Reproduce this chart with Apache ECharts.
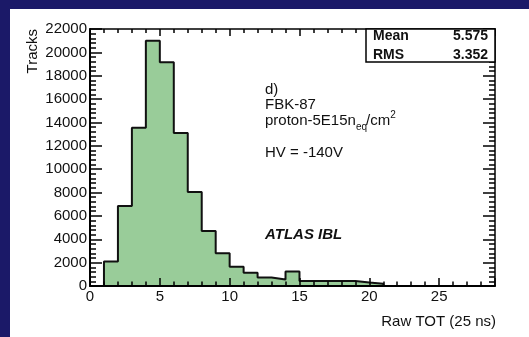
<!DOCTYPE html>
<html>
<head>
<meta charset="utf-8">
<script src="https://cdn.jsdelivr.net/npm/echarts@6/dist/echarts.min.js"></script>
<style>
  html, body { margin: 0; padding: 0; background: #ffffff; width: 529px; height: 337px; overflow: hidden; }
  #topbar { position: absolute; left: 0; top: 0; width: 100%; height: 9px; background: #1b1968; }
  #leftbar { position: absolute; left: 0; top: 0; width: 10px; height: 100%; background: #1b1968; }
  #c { position: absolute; left: 10px; top: 9px; width: 519px; height: 328px; background: #ffffff; }
</style>
</head>
<body>
<div id="topbar"></div>
<div id="leftbar"></div>
<div id="c"></div>
<script>
// ---- data ----
const binLowEdges = [0,1,2,3,4,5,6,7,8,9,10,11,12,13,14,15,16,17,18,19,20,21,22,23,24,25,26,27,28];
const binCounts   = [0,2100,6850,13550,21000,19150,13100,8050,4700,2800,1650,1130,730,560,1250,420,420,420,420,300,200,0,0,0,0,0,0,0,0];
const binWidth = 1;
const xRange = [0, 29];
const yRange = [0, 22000];
const statLabels = ['Mean', 'RMS'];
const statValues = ['5.575', '3.352'];
const noteLines = ['d)', 'FBK-87', 'HV = -140V'];
const yTitle = 'Tracks';
const xTitle = 'Raw TOT (25 ns)';
const brand = 'ATLAS IBL';

const FONT = "'Liberation Sans', Arial, Helvetica, sans-serif";
const OX = 10, OY = 9; // offset of white panel in page

const stepData = binLowEdges.map((x, i) => [x, binCounts[i]]);
stepData.push([binLowEdges[binLowEdges.length - 1] + binWidth, 0]);

const chart = echarts.init(document.getElementById('c'), null, { renderer: 'canvas', width: 519, height: 328 });

const ctx = document.createElement('canvas').getContext('2d');
function tw(text, font) { ctx.font = font; return ctx.measureText(text).width; }

const fN = '15px ' + FONT;
const fS = '10px ' + FONT;
const px = 265 - OX;
let cx = px;
const protonParts = [];
const py = 121 - OY;
protonParts.push({ t: 'proton-5E15n', f: fN, y: py });
protonParts.push({ t: 'eq', f: fS, y: py + 6 });
protonParts.push({ t: '/cm', f: fN, y: py });
protonParts.push({ t: '2', f: fS, y: py - 6 });
const protonEls = protonParts.map(p => {
  const el = { type: 'text', x: cx, y: p.y, z: 10,
    style: { text: p.t, font: p.f, fill: '#111', textAlign: 'left', textVerticalAlign: 'middle' } };
  cx += tw(p.t, p.f) - (p.t === 'eq' ? 1 : 0);
  return el;
});

const noteY = [90, 105, 153];
const noteEls = noteLines.map((t, i) => ({
  type: 'text', x: px, y: noteY[i] - OY, z: 10,
  style: { text: t, font: fN, fill: '#111', textAlign: 'left', textVerticalAlign: 'middle' }
}));

const boxL = 366 - OX, boxT = 29 - OY, boxR = 495 - OX, boxB = 62 - OY;
const statY = [36.5 - OY, 55 - OY];
const statEls = [];
statLabels.forEach((l, i) => {
  statEls.push({ type: 'text', x: 373 - OX, y: statY[i], z: 12,
    style: { text: l, font: 'bold 14px ' + FONT, fill: '#111', textAlign: 'left', textVerticalAlign: 'middle' } });
  statEls.push({ type: 'text', x: 488 - OX, y: statY[i], z: 12,
    style: { text: statValues[i], font: 'bold 14px ' + FONT, fill: '#111', textAlign: 'right', textVerticalAlign: 'middle' } });
});

const tickStyle = { color: '#000', width: 1.5 };
const plain = v => String(v);

const option = {
  animation: false,
  backgroundColor: '#ffffff',
  grid: { left: 80, top: 20, right: 34, bottom: 51, containLabel: false },
  xAxis: [
    { type: 'value', position: 'bottom', min: xRange[0], max: xRange[1], interval: 5, z: 5,
      axisLine: { show: true, lineStyle: { color: '#000', width: 2 } },
      axisTick: { show: true, inside: true, length: 8, lineStyle: tickStyle },
      minorTick: { show: true, splitNumber: 5, length: 4.5, lineStyle: tickStyle },
      splitLine: { show: false }, minorSplitLine: { show: false },
      axisLabel: { show: true, margin: 3, color: '#111', fontSize: 15, fontFamily: FONT, showMaxLabel: false, formatter: plain } },
    { type: 'value', position: 'top', min: xRange[0], max: xRange[1], interval: 5, z: 5,
      axisLine: { show: true, onZero: false, lineStyle: { color: '#000', width: 1.5 } },
      axisTick: { show: true, inside: true, length: 7, lineStyle: tickStyle },
      minorTick: { show: true, splitNumber: 5, length: 4, lineStyle: tickStyle },
      splitLine: { show: false }, axisLabel: { show: false } }
  ],
  yAxis: [
    { type: 'value', position: 'left', min: yRange[0], max: yRange[1], interval: 2000, z: 5,
      axisLine: { show: true, onZero: false, lineStyle: { color: '#000', width: 2 } },
      axisTick: { show: true, inside: true, length: 12, lineStyle: tickStyle },
      minorTick: { show: true, splitNumber: 5, length: 6, lineStyle: tickStyle },
      splitLine: { show: false }, minorSplitLine: { show: false },
      axisLabel: { show: true, margin: 3, color: '#111', fontSize: 15, fontFamily: FONT, formatter: plain } },
    { type: 'value', position: 'right', min: yRange[0], max: yRange[1], interval: 2000, z: 5,
      axisLine: { show: true, onZero: false, lineStyle: { color: '#000', width: 1.5 } },
      axisTick: { show: true, inside: true, length: 12, lineStyle: tickStyle },
      minorTick: { show: true, splitNumber: 5, length: 6, lineStyle: tickStyle },
      splitLine: { show: false }, axisLabel: { show: false } }
  ],
  series: [{
    type: 'line', xAxisIndex: 0, yAxisIndex: 0, step: 'end', data: stepData,
    symbol: 'none', z: 2,
    lineStyle: { color: '#111', width: 2 },
    areaStyle: { color: '#99cc99', opacity: 1 }
  }],
  graphic: { elements: [
    { type: 'rect', z: 11, shape: { x: boxL, y: boxT, width: boxR - boxL, height: boxB - boxT },
      style: { fill: '#ffffff', stroke: '#000', lineWidth: 1.5 } },
    ...statEls,
    ...noteEls,
    ...protonEls,
    { type: 'text', x: 265 - OX, y: 235 - OY, z: 10,
      style: { text: brand, font: 'italic bold 15px ' + FONT, fill: '#111', textAlign: 'left', textVerticalAlign: 'middle' } },
    { type: 'text', x: 496 - OX, y: 322 - OY, z: 10,
      style: { text: xTitle, font: fN, fill: '#111', textAlign: 'right', textVerticalAlign: 'middle' } },
    { type: 'text', x: 32.5 - OX, y: 29 - OY, z: 10, rotation: Math.PI / 2,
      style: { text: yTitle, font: fN, fill: '#111', textAlign: 'right', textVerticalAlign: 'middle' } }
  ] }
};
chart.setOption(option);
</script>
</body>
</html>
